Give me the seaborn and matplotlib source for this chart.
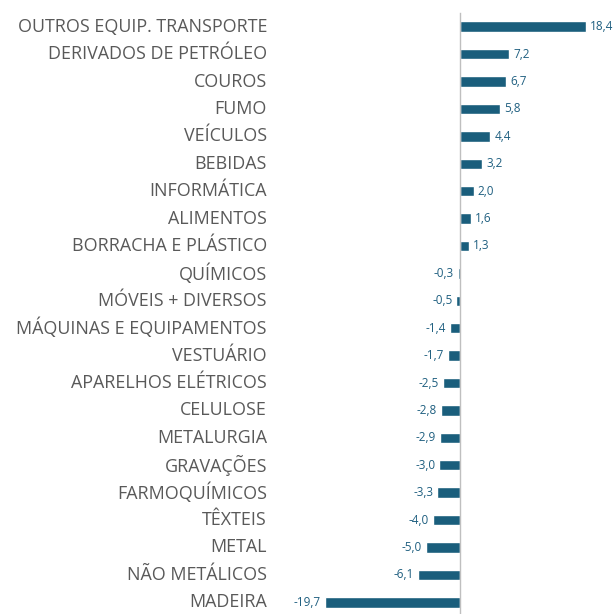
import matplotlib
matplotlib.use("Agg")
import matplotlib.pyplot as plt
import matplotlib.transforms as mtransforms
import seaborn as sns
import pandas as pd

categories = ['OUTROS EQUIP. TRANSPORTE', 'DERIVADOS DE PETRÓLEO', 'COUROS', 'FUMO',
              'VEÍCULOS', 'BEBIDAS', 'INFORMÁTICA', 'ALIMENTOS', 'BORRACHA E PLÁSTICO',
              'QUÍMICOS', 'MÓVEIS + DIVERSOS', 'MÁQUINAS E EQUIPAMENTOS', 'VESTUÁRIO',
              'APARELHOS ELÉTRICOS', 'CELULOSE', 'METALURGIA', 'GRAVAÇÕES',
              'FARMOQUÍMICOS', 'TÊXTEIS', 'METAL', 'NÃO METÁLICOS', 'MADEIRA']
values = [18.4, 7.2, 6.7, 5.8, 4.4, 3.2, 2.0, 1.6, 1.3, -0.3, -0.5, -1.4, -1.7,
          -2.5, -2.8, -2.9, -3.0, -3.3, -4.0, -5.0, -6.1, -19.7]

df = pd.DataFrame({'setor': categories, 'valor': values})

sns.set_style("white")
plt.rcParams['font.family'] = ['Open Sans', 'DejaVu Sans']

bar_color = '#1A5E7C'
fig = plt.figure(figsize=(6.13, 6.14), dpi=100)
# axes spans the zero line at x=460px, rows from y=12 to y=615
ax = fig.add_axes([275 / 613, -2 / 614, 338 / 613, 603 / 614])

sns.barplot(data=df, y='setor', x='valor', orient='h', color=bar_color,
            width=0.38, saturation=1, ax=ax)

ax.set_xlim(-27.0, 22.35)
ax.set_ylim(len(categories) - 0.5, -0.5)

for s in ['top', 'right', 'bottom']:
    ax.spines[s].set_visible(False)
ax.spines['left'].set_position(('data', 0))
ax.spines['left'].set_color('#BFBFBF')
ax.spines['left'].set_linewidth(1.0)

ax.set_xticks([])
ax.set_yticks([i - 0.5 for i in range(len(categories) + 1)])
ax.set_yticklabels([])
ax.tick_params(axis='y', direction='out', length=5, width=1.0, color='#BFBFBF')
ax.set_xlabel('')
ax.set_ylabel('')

ax.bar_label(ax.containers[0], labels=[f'{v:.1f}'.replace('.', ',') for v in values],
             padding=3, fontsize=8.5, color='#1F5F80')

trans = mtransforms.blended_transform_factory(fig.transFigure, ax.transData)
for i, c in enumerate(categories):
    ax.text(267 / 613, i, c, transform=trans, ha='right', va='center',
            fontsize=12.9, color='#595959', clip_on=False)

fig.savefig('out.png', dpi=100)
